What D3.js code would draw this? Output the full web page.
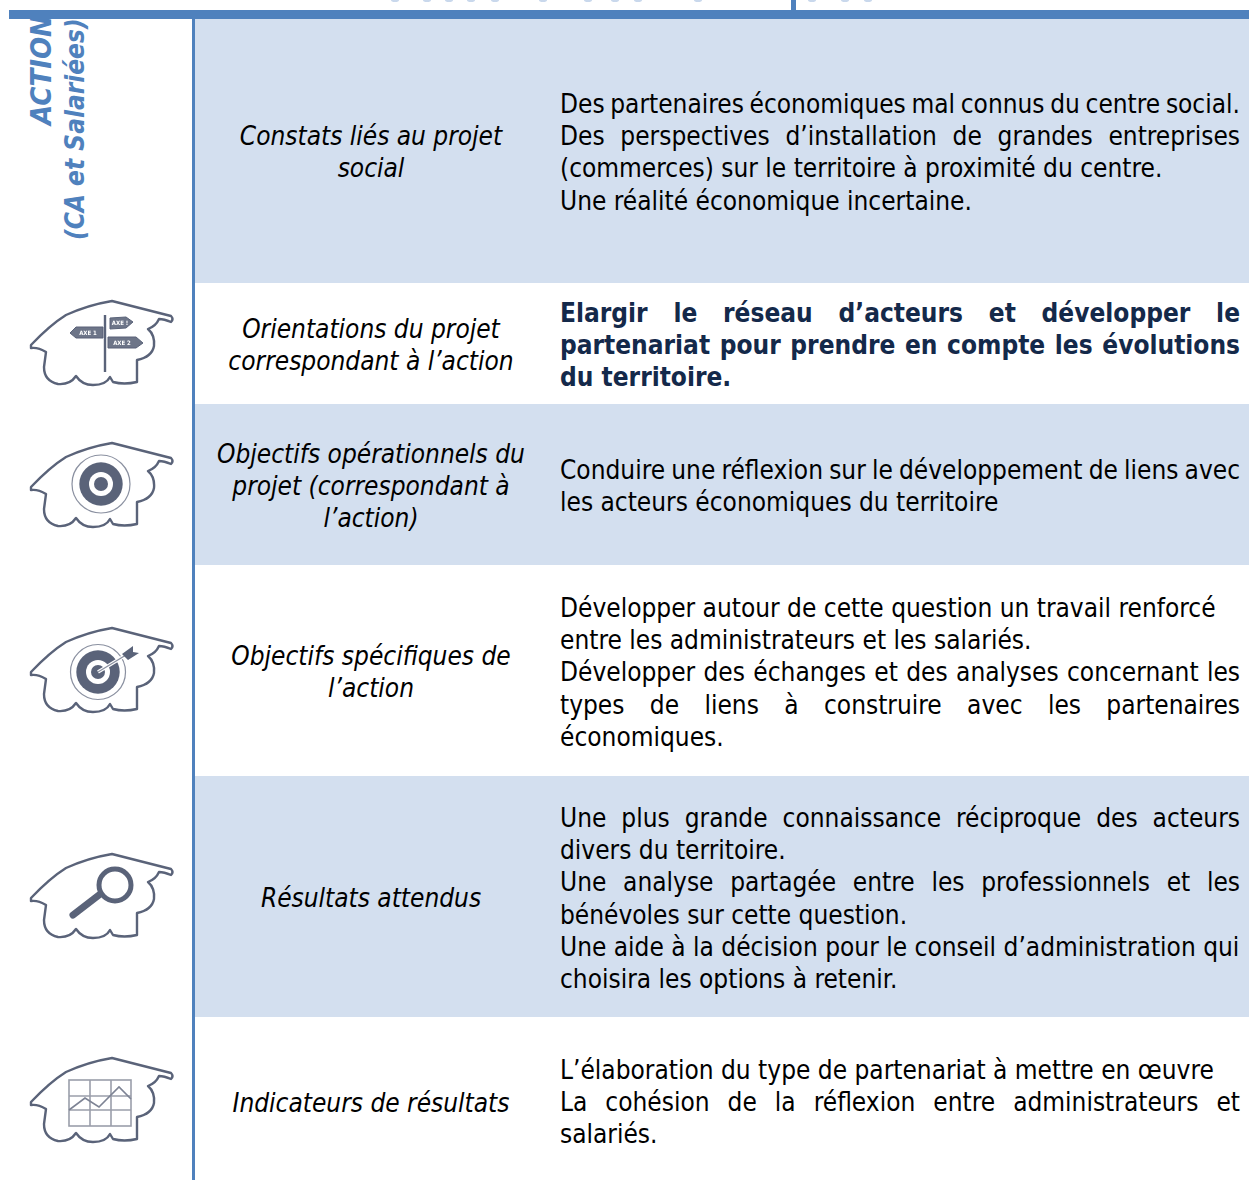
<!DOCTYPE html>
<html>
<head>
<meta charset="utf-8">
<script src="https://cdnjs.cloudflare.com/ajax/libs/d3/7.8.5/d3.min.js"></script>
<style>
  html, body { margin: 0; padding: 0; background: #fff; overflow: hidden; }
  text { font-family: "DejaVu Sans Condensed", "DejaVu Sans", sans-serif; }
</style>
</head>
<body>
<div id="chart"></div>
<script>
var rows = ['constats', 'orientations', 'operationnels', 'specifiques', 'resultats', 'indicateurs'];

var labels = [
  ['Constats liés au projet', 'social'],
  ['Orientations du projet', 'correspondant à l’action'],
  ['Objectifs opérationnels du', 'projet (correspondant à', 'l’action)'],
  ['Objectifs spécifiques de', 'l’action'],
  ['Résultats attendus'],
  ['Indicateurs de résultats']
];

var bodies = [
  ['Des partenaires économiques mal connus du centre social.',
   'Des perspectives d’installation de grandes entreprises',
   '(commerces) sur le territoire à proximité du centre.',
   'Une réalité économique incertaine.'],
  ['Elargir le réseau d’acteurs et développer le',
   'partenariat pour prendre en compte les évolutions',
   'du territoire.'],
  ['Conduire une réflexion sur le développement de liens avec',
   'les acteurs économiques du territoire'],
  ['Développer autour de cette question un travail renforcé',
   'entre les administrateurs et les salariés.',
   'Développer des échanges et des analyses concernant les',
   'types de liens à construire avec les partenaires',
   'économiques.'],
  ['Une plus grande connaissance réciproque des acteurs',
   'divers du territoire.',
   'Une analyse partagée entre les professionnels et les',
   'bénévoles sur cette question.',
   'Une aide à la décision pour le conseil d’administration qui',
   'choisira les options à retenir.'],
  ['L’élaboration du type de partenariat à mettre en œuvre',
   'La cohésion de la réflexion entre administrateurs et',
   'salariés.']
];

// lines that fill the whole column in the justified source
var justified = [
  'Des partenaires économiques mal connus du centre social.',
  'Des perspectives d’installation de grandes entreprises',
  'Elargir le réseau d’acteurs et développer le',
  'partenariat pour prendre en compte les évolutions',
  'Conduire une réflexion sur le développement de liens avec',
  'Développer des échanges et des analyses concernant les',
  'types de liens à construire avec les partenaires',
  'Une plus grande connaissance réciproque des acteurs',
  'Une analyse partagée entre les professionnels et les',
  'La cohésion de la réflexion entre administrateurs et'
];

var sideLines = ['ACTION', '(CA et Salariées)'];
var titleFeet = [395, 427, 449, 471, 495, 543, 588, 615, 638, 698, 812, 845, 868];

var icons = ['orientations', 'operationnels', 'specifiques', 'resultats', 'indicateurs'];

var width = 1249, height = 1180, blue = '#4f81bd', pale = '#d3dfef', slate = '#5a6379';

var rowEdge = d3.scaleOrdinal().domain(rows.concat('end')).range([19, 283, 404, 565, 776, 1017, 1180]);
var labelBase = d3.scaleOrdinal().domain(rows).range([145, 338, 463, 665, 907, 1112]);
var bodyBase = d3.scaleOrdinal().domain(rows).range([113, 322, 479, 617, 827, 1079]);
var iconY = d3.scaleOrdinal().domain(icons).range([301, 443, 628, 854, 1058]);

var lineHeight = 32.2, fontSize = 26;

var svg = d3.select('#chart').append('svg')
  .attr('width', width).attr('height', height);

var defs = svg.append('defs');
defs.append('filter').attr('id', 'soft')
  .append('feGaussianBlur').attr('stdDeviation', 0.55);
defs.append('clipPath').attr('id', 'side-clip')
  .append('rect').attr('x', 0).attr('y', 19).attr('width', 192).attr('height', 300);

// row bands
svg.selectAll('.band')
    .data(rows.filter(function(d, i){ return i % 2 === 0; }))
  .enter().append('rect')
    .attr('class', 'band')
    .attr('x', 195)
    .attr('width', width - 195)
    .attr('y', function(d){ return rowEdge(d); })
    .attr('height', function(d){ return rowEdge(rows[rows.indexOf(d) + 1]) - rowEdge(d); })
    .attr('fill', pale);

// rules
svg.append('rect').attr('x', 192).attr('y', 19).attr('width', 3).attr('height', height - 19).attr('fill', blue);
svg.append('rect').attr('x', 9).attr('y', 10).attr('width', width - 9).attr('height', 9).attr('fill', blue);

// what is left of the cropped title
svg.selectAll('.foot')
    .data(titleFeet)
  .enter().append('ellipse')
    .attr('class', 'foot')
    .attr('cx', function(d){ return d; })
    .attr('cy', 0)
    .attr('rx', 4)
    .attr('ry', 2)
    .attr('fill', '#c9d8ec');
svg.append('rect').attr('x', 791).attr('y', 0).attr('width', 5).attr('height', 10).attr('fill', blue);

// rotated side title
var side = svg.append('g').attr('clip-path', 'url(#side-clip)');
side.selectAll('text')
    .data(sideLines)
  .enter().append('text')
    .attr('transform', function(d, i){
      return i === 0 ? 'translate(51,125) rotate(-90)' : 'translate(84,240) rotate(-90)';
    })
    .attr('font-size', function(d, i){ return i === 0 ? 29 : 26; })
    .attr('font-weight', 'bold')
    .attr('font-style', 'italic')
    .attr('fill', blue)
    .text(function(d){ return d; });

// left column
var labelRows = svg.selectAll('.label-row')
    .data(rows)
  .enter().append('g')
    .attr('class', 'label-row');

labelRows.selectAll('text')
    .data(function(d, i){
      return labels[i].map(function(t, j){ return { text: t, y: labelBase(d) + j * lineHeight }; });
    })
  .enter().append('text')
    .attr('x', 371)
    .attr('y', function(d){ return d.y; })
    .attr('text-anchor', 'middle')
    .attr('font-size', fontSize)
    .attr('font-style', 'italic')
    .attr('fill', '#000')
    .text(function(d){ return d.text; });

// right column
var bodyRows = svg.selectAll('.body-row')
    .data(rows)
  .enter().append('g')
    .attr('class', 'body-row');

bodyRows.selectAll('text')
    .data(function(d, i){
      return bodies[i].map(function(t, j){
        return { text: t, y: bodyBase(d) + j * lineHeight, strong: i === 1 };
      });
    })
  .enter().append('text')
    .attr('x', 560)
    .attr('y', function(d){ return d.y; })
    .attr('font-size', fontSize)
    .attr('font-weight', function(d){ return d.strong ? 'bold' : 'normal'; })
    .attr('fill', function(d){ return d.strong ? '#14294a' : '#000'; })
    .text(function(d){ return d.text; })
    .each(function(d){
      if(justified.indexOf(d.text) < 0) return;
      var gaps = d.text.split(' ').length - 1,
          extra = 680 - this.getComputedTextLength();
      d3.select(this).attr('word-spacing', extra / gaps);
    });

// house icons, all drawn relative to the roof apex
var house = 'M0,0 L59,15 Q62,18 59,21 Q52,18 47,18 Q44,25 36,28 Q43,34 42,45 Q40,56 25,59 ' +
  'L25,81 Q12,84 1,81 L-2,76 Q-6,84 -19,84 Q-30,84 -36,75 Q-42,84 -54,83 Q-68,80 -68,66 ' +
  'L-66,51 Q-74,46 -81,47 L-81,44 Q-62,24 -46,14 Q-24,4 0,0 Z';

var iconGroups = svg.selectAll('.icon')
    .data(icons)
  .enter().append('g')
    .attr('class', 'icon')
    .attr('transform', function(d){ return 'translate(112,' + iconY(d) + ')'; })
    .attr('filter', 'url(#soft)');

iconGroups.append('path')
  .attr('d', house)
  .attr('fill', '#fff')
  .attr('stroke', slate)
  .attr('stroke-width', 2.4)
  .attr('stroke-linejoin', 'round');

var draw = {
  orientations: function(g){
    g.append('line').attr('x1', -7).attr('x2', -7).attr('y1', 14).attr('y2', 71)
      .attr('stroke', slate).attr('stroke-width', 2.4);
    var signs = [
      { d: 'M-42,32 L-36,26 L-9,26 L-9,37 L-36,37 Z', t: 'AXE 1', x: -24, y: 34 },
      { d: 'M-2,17 L14,16 L21,21 L14,27 L-2,28 Z', t: 'AXE !', x: 8, y: 24 },
      { d: 'M-4,36 L24,36 L31,42 L24,47 L-4,47 Z', t: 'AXE 2', x: 10, y: 44 }
    ];
    g.selectAll('.sign').data(signs).enter().append('path')
      .attr('class', 'sign').attr('d', function(d){ return d.d; })
      .attr('fill', '#6d7588').attr('stroke', slate).attr('stroke-width', 1);
    g.selectAll('.sign-text').data(signs).enter().append('text')
      .attr('class', 'sign-text')
      .attr('x', function(d){ return d.x; }).attr('y', function(d){ return d.y; })
      .attr('text-anchor', 'middle').attr('font-size', 6).attr('font-weight', 'bold')
      .attr('fill', '#fff').text(function(d){ return d.t; });
  },
  operationnels: function(g){ target(g, -11, 41, 29); },
  specifiques: function(g){
    target(g, -14, 44, 27.5);
    g.append('line').attr('x1', -14).attr('y1', 44).attr('x2', 14).attr('y2', 27)
      .attr('stroke', '#fff').attr('stroke-width', 3.4);
    g.append('line').attr('x1', -14).attr('y1', 44).attr('x2', 14).attr('y2', 27)
      .attr('stroke', '#8a90a0').attr('stroke-width', 1.4);
    g.append('path').attr('d', 'M10,26 L21,18 L21,24 L27,25 L16,32 Z').attr('fill', slate);
  },
  resultats: function(g){
    g.append('circle').attr('cx', 3).attr('cy', 31).attr('r', 16)
      .attr('fill', '#fff').attr('stroke', slate).attr('stroke-width', 5);
    g.append('line').attr('x1', -13).attr('y1', 41).attr('x2', -39).attr('y2', 61)
      .attr('stroke', slate).attr('stroke-width', 7).attr('stroke-linecap', 'round');
  },
  indicateurs: function(g){
    var grey = '#9a9eaa';
    g.append('rect').attr('x', -43).attr('y', 22).attr('width', 62).attr('height', 46)
      .attr('fill', '#fff').attr('stroke', grey).attr('stroke-width', 1.6);
    [-22, -1].forEach(function(x){
      g.append('line').attr('x1', x).attr('x2', x).attr('y1', 22).attr('y2', 68)
        .attr('stroke', grey).attr('stroke-width', 1.6);
    });
    [38, 52].forEach(function(y){
      g.append('line').attr('x1', -43).attr('x2', 19).attr('y1', y).attr('y2', y)
        .attr('stroke', grey).attr('stroke-width', 1.6);
    });
    g.append('path').attr('d', 'M-43,52 L-27,40 L-13,49 L7,29 L19,41')
      .attr('fill', 'none').attr('stroke', '#7d8394').attr('stroke-width', 1.6);
  }
};

function target(g, cx, cy, r){
  g.append('circle').attr('cx', cx).attr('cy', cy).attr('r', r)
    .attr('fill', '#fff').attr('stroke', '#8a90a0').attr('stroke-width', 1.2);
  [[21.7, slate], [12, '#fff'], [7, slate]].forEach(function(c){
    g.append('circle').attr('cx', cx).attr('cy', cy).attr('r', c[0]).attr('fill', c[1]);
  });
}

iconGroups.each(function(d){ draw[d](d3.select(this)); });
</script>
</body>
</html>
